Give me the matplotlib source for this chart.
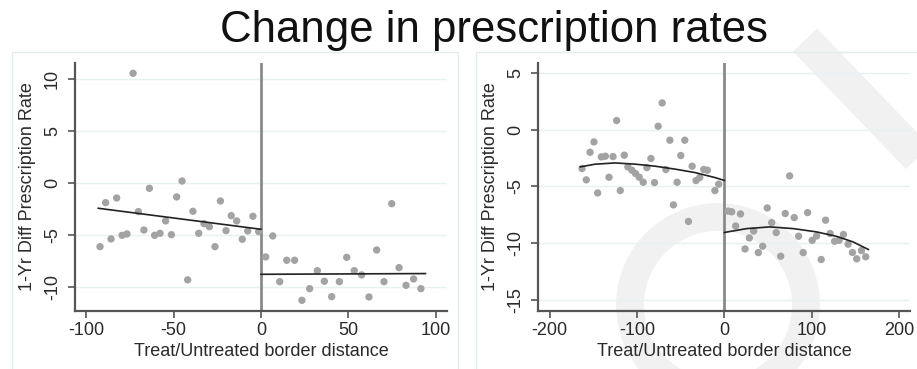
import matplotlib
matplotlib.use("Agg")
import matplotlib.pyplot as plt
from matplotlib.patches import Rectangle, Circle
from matplotlib.lines import Line2D

plt.rcParams['font.family'] = ['Liberation Sans', 'DejaVu Sans']

# ---------------- data ----------------
title = "Change in prescription rates"
xlabel = "Treat/Untreated border distance"
ylabel = "1-Yr Diff Prescription Rate"

# Left panel (bandwidth 100)
l_left_x = [-92.0, -88.8, -85.7, -82.5, -79.4, -76.6, -73.1, -70.1, -66.9, -63.8,
            -60.8, -57.7, -54.5, -51.2, -48.2, -45.1, -41.9, -38.9, -35.6, -32.6,
            -29.5, -26.3, -23.2, -20.0, -17.0, -13.9, -10.7, -7.6, -4.6, -1.3]
l_left_y = [-6.09, -1.86, -5.35, -1.41, -5.00, -4.87, 10.58, -2.72, -4.49, -0.48,
            -5.00, -4.81, -3.62, -4.94, -1.31, 0.22, -9.29, -2.69, -4.81, -3.88,
            -4.17, -6.09, -1.70, -4.55, -3.11, -3.62, -5.38, -4.58, -3.17, -4.65]
l_right_x = [2.7, 6.7, 10.7, 14.7, 19.2, 23.4, 27.8, 32.2, 36.2, 40.4, 44.8,
             49.0, 53.3, 57.5, 61.7, 66.1, 70.3, 74.7, 78.9, 82.9, 87.2, 91.4]
l_right_y = [-7.08, -5.06, -9.46, -7.40, -7.40, -11.25, -10.13, -8.40, -9.42, -10.90, -9.46,
             -7.12, -8.40, -8.81, -10.93, -6.41, -9.46, -1.96, -8.11, -9.81, -9.20, -10.13]
l_fitL_x = [-93, 0]
l_fitL_y = [-2.40, -4.42]
l_fitR_x = [0, 94]
l_fitR_y = [-8.75, -8.68]
l_xticks = [-100, -50, 0, 50, 100]
l_yticks = [-10, -5, 0, 5, 10]

# Right panel (bandwidth 200)
r_left_x = [-163.0, -158.1, -153.8, -149.3, -145.1, -140.9, -136.3, -132.1, -127.5, -123.4,
            -119.2, -114.6, -110.5, -105.9, -101.7, -97.5, -92.9, -88.7, -84.1, -80.0,
            -75.8, -71.2, -67.0, -62.4, -58.3, -54.1, -49.9, -45.3, -41.1, -36.9,
            -32.4, -28.2, -23.6, -19.4, -10.8, -6.5]
r_left_y = [-3.43, -4.43, -2.00, -1.09, -5.58, -2.41, -2.35, -4.20, -2.38, 0.79,
            -5.37, -2.26, -3.29, -3.58, -3.87, -4.20, -4.64, -3.35, -2.55, -4.67,
            0.29, 2.34, -3.52, -0.94, -6.63, -4.64, -2.29, -0.94, -8.09, -3.23,
            -4.49, -4.22, -3.52, -3.58, -5.37, -4.81]
r_right_x = [4.2, 8.4, 13.0, 18.5, 23.7, 28.6, 33.6, 38.9, 43.9, 49.1, 54.2, 59.4,
             64.5, 69.7, 74.7, 80.0, 85.0, 90.3, 95.3, 100.6, 105.6, 110.9, 115.9,
             121.1, 126.3, 131.4, 136.4, 141.7, 146.7, 151.6, 157.0, 161.9]
r_right_y = [-7.18, -7.24, -8.49, -7.43, -10.51, -9.54, -8.93, -10.83, -10.27, -6.90, -8.19, -9.07,
             -11.15, -7.39, -4.08, -7.75, -9.39, -10.83, -7.31, -9.75, -9.37, -11.44, -7.98,
             -9.15, -9.83, -9.74, -9.24, -10.09, -10.82, -11.38, -10.65, -11.20]
r_fitL_x = [-165, -148, -125, -102, -79, -56, -33.5, -10.6, 0]
r_fitL_y = [-3.29, -3.05, -2.94, -3.05, -3.23, -3.49, -3.79, -4.23, -4.48]
r_fitR_x = [0, 25.6, 52, 79, 105.6, 128.5, 147.4, 165]
r_fitR_y = [-9.06, -8.72, -8.57, -8.72, -9.01, -9.40, -9.89, -10.56]
r_xticks = [-200, -100, 0, 100, 200]
r_yticks = [-15, -10, -5, 0, 5]

# ---------------- figure ----------------
W, H = 917, 369
fig = plt.figure(figsize=(W / 100, H / 100), dpi=100)
fig.patch.set_facecolor('white')

def px(x, y):
    return x / W, 1 - y / H

# faint watermark strokes (figure pixel space)
wm = '#f1f1f1'
for (x0, y0, x1, y1, lw) in [(805, 40, 930, 170, 24)]:
    a = px(x0, y0); b = px(x1, y1)
    fig.add_artist(Line2D([a[0], b[0]], [a[1], b[1]], transform=fig.transFigure,
                          color=wm, lw=lw, solid_capstyle='butt', zorder=0))
ring = Circle((718, H - 305), 88, transform=None, fill=False, ec=wm, lw=20, zorder=0)
fig.add_artist(ring)

# panel frames
frame_c = '#e4ecec'
for (x0, x1) in [(12, 458), (476, 930)]:
    fig.add_artist(Rectangle(px(x0, 380), (x1 - x0) / W, (380 - 52) / H,
                             transform=fig.transFigure, fill=False, ec=frame_c, lw=1.0, zorder=0))

fig.text(494 / W, 1 - 42 / H, title, ha='center', va='baseline', fontsize=31.5, color='#111111')

ax_h = (311 - 62.7) / H
ax_b = 1 - 311 / H
axL = fig.add_axes([75 / W, ax_b, 372 / W, ax_h])
axR = fig.add_axes([538 / W, ax_b, 372 / W, ax_h])

dot_c = '#a3a3a3'
axis_c = '#555555'
grid_c = '#e8f0f1'
txt_c = '#2a2a2a'

def style(ax, xlim, ylim, xticks, yticks):
    ax.set_facecolor('none')
    ax.set_xlim(*xlim)
    ax.set_ylim(*ylim)
    ax.set_xticks(xticks)
    ax.set_yticks(yticks)
    ax.set_xticklabels([str(t) for t in xticks])
    ax.set_yticklabels([str(t) for t in yticks], rotation=90, va='center')
    for s in ['top', 'right']:
        ax.spines[s].set_visible(False)
    for s in ['left', 'bottom']:
        ax.spines[s].set_color(axis_c)
        ax.spines[s].set_linewidth(1.6)
    ax.tick_params(axis='both', direction='out', length=5, width=1.2, color=axis_c,
                   labelsize=13, labelcolor=txt_c)
    ax.tick_params(axis='x', pad=3)
    ax.tick_params(axis='y', pad=5)
    for t in yticks:
        ax.axhline(t, color=grid_c, lw=1.0, zorder=0)
    ax.axvline(0, color='#8a8a8a', lw=2.0, zorder=1)
    ax.set_xlabel(xlabel, fontsize=13, color=txt_c, labelpad=3)
    ax.set_ylabel(ylabel, fontsize=13, color=txt_c, labelpad=6)

style(axL, (-106.3, 106.3), (-12.28, 11.6), l_xticks, l_yticks)
axL.scatter(l_left_x, l_left_y, s=28, color=dot_c, edgecolors='none', zorder=2)
axL.scatter(l_right_x, l_right_y, s=28, color=dot_c, edgecolors='none', zorder=2)
axL.plot(l_fitL_x, l_fitL_y, color='#222222', lw=1.2, zorder=3)
axL.plot(l_fitR_x, l_fitR_y, color='#222222', lw=1.2, zorder=3)

style(axR, (-213.4, 212.6), (-15.97, 5.88), r_xticks, r_yticks)
axR.scatter(r_left_x, r_left_y, s=28, color=dot_c, edgecolors='none', zorder=2)
axR.scatter(r_right_x, r_right_y, s=28, color=dot_c, edgecolors='none', zorder=2)
axR.plot(r_fitL_x, r_fitL_y, color='#222222', lw=1.2, zorder=3)
axR.plot(r_fitR_x, r_fitR_y, color='#222222', lw=1.2, zorder=3)

fig.savefig('out.png', dpi=100)
